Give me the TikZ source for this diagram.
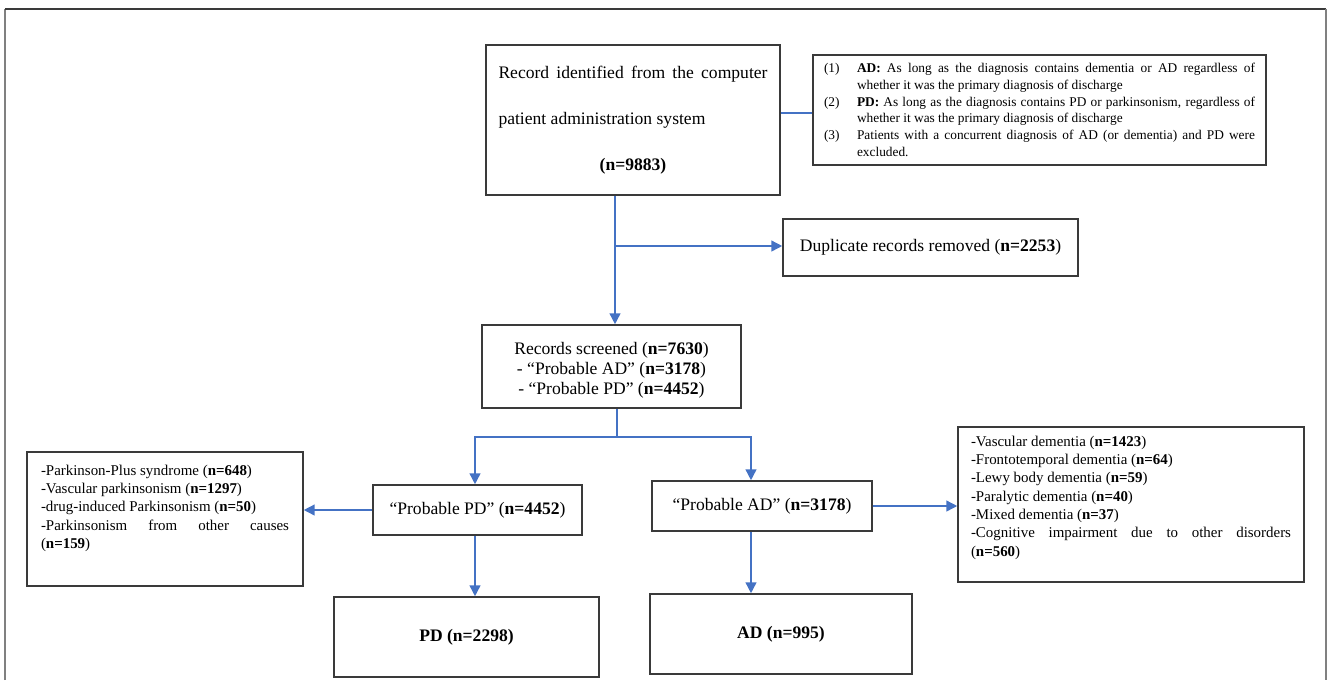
\documentclass[tikz,border=0pt]{standalone}
\usepackage{fontspec}
\setmainfont{Liberation Serif}
\usetikzlibrary{arrows.meta}
\newlength\pu
\setlength\pu{0.02cm}
\definecolor{flowblue}{HTML}{4472C4}
\definecolor{boxgray}{HTML}{3A3A3A}
\definecolor{framegray}{HTML}{808080}

\begin{document}
\begin{tikzpicture}[x=0.02cm, y=-0.02cm,
  every node/.style={draw=boxgray, line width=0.9pt, rectangle, inner sep=0pt, align=center, font=\fontsize{10}{11.4}\selectfont},
  flow/.style={draw=flowblue, line width=0.85pt, -{Triangle[length=6.2pt,width=6.2pt]}},
  link/.style={draw=flowblue, line width=0.85pt}]
\useasboundingbox (0,0) rectangle (1328,680);
\draw[framegray, line width=1pt] (5,680) -- (5,9);
\draw[boxgray, line width=1pt] (5,9) -- (1326,9);
\draw[framegray, line width=1pt] (1326,9) -- (1326,680);

\node[minimum width=294\pu, minimum height=150\pu, font=\fontsize{10}{26}\selectfont] (REC) at (633,120)
  {\makebox[269\pu][s]{Record identified from the computer}\\ \makebox[269\pu][l]{patient administration system}\\ \makebox[269\pu]{\textbf{(n=9883)}}};
\node[minimum width=453\pu, minimum height=110\pu, font=\fontsize{7.6}{9.5}\selectfont, align=left] (NOTE) at (1039.5,110)
  {\parbox{431\pu}{\makebox[33\pu][l]{(1)}\makebox[398\pu][s]{\textbf{AD:} As long as the diagnosis contains dementia or AD regardless of}\\
   \hspace*{33\pu}whether it was the primary diagnosis of discharge\\
   \makebox[33\pu][l]{(2)}\makebox[398\pu][s]{\textbf{PD:} As long as the diagnosis contains PD or parkinsonism, regardless of}\\
   \hspace*{33\pu}whether it was the primary diagnosis of discharge\\
   \makebox[33\pu][l]{(3)}\makebox[398\pu][s]{Patients with a concurrent diagnosis of AD (or dementia) and PD were}\\
   \hspace*{33\pu}excluded.}};
\node[minimum width=295\pu, minimum height=57\pu] (DUP) at (930.5,247.5) {Duplicate records removed (\textbf{n=2253})};
\node[minimum width=259\pu, minimum height=83\pu] (SCR) at (611.5,366.5)
  {\parbox[c][60\pu][b]{240\pu}{\centering Records screened (\textbf{n=7630})\\ - “Probable AD” (\textbf{n=3178})\\ - “Probable PD” (\textbf{n=4452})}};
\node[minimum width=209\pu, minimum height=50\pu] (PPD) at (477.5,510) {“Probable PD” (\textbf{n=4452})};
\node[minimum width=220\pu, minimum height=50\pu] (PAD) at (762,506) {“Probable AD” (\textbf{n=3178})};
\node[minimum width=276\pu, minimum height=134\pu, font=\fontsize{8.5}{10.4}\selectfont, align=left] (PDEX) at (165,519)
  {\parbox[c][108\pu][t]{248\pu}{-Parkinson-Plus syndrome (\textbf{n=648})\\ -Vascular parkinsonism (\textbf{n=1297})\\ -drug-induced Parkinsonism (\textbf{n=50})\\ \makebox[248\pu][s]{-Parkinsonism from other causes}\\ (\textbf{n=159})}};
\node[minimum width=346\pu, minimum height=155\pu, font=\fontsize{8.5}{10.4}\selectfont, align=left] (ADEX) at (1131,504.5)
  {\parbox[c][137\pu][t]{320\pu}{-Vascular dementia (\textbf{n=1423})\\ -Frontotemporal dementia (\textbf{n=64})\\ -Lewy body dementia (\textbf{n=59})\\ -Paralytic dementia (\textbf{n=40})\\ -Mixed dementia (\textbf{n=37})\\ \makebox[320\pu][s]{-Cognitive impairment due to other disorders}\\ (\textbf{n=560})}};
\node[minimum width=265\pu, minimum height=80\pu] (PD) at (466.5,637) {\textbf{PD (n=2298)}};
\node[minimum width=262\pu, minimum height=80\pu] (AD) at (781,634) {\textbf{AD (n=995)}};

\coordinate (TRUNK) at (615,246);
\coordinate (FORK) at (617,437);
\coordinate (FL) at (475,437);
\coordinate (FR) at (751,437);

\draw[link] (REC.east |- 0,113) -- (NOTE.west |- 0,113);
\draw[flow] (REC.south -| TRUNK) -- (SCR.north -| TRUNK);
\draw[flow] (TRUNK) -- (DUP.west |- TRUNK);
\draw[link] (SCR.south -| FORK) -- (FORK);
\draw[flow] (FORK) -| (PPD.north -| FL);
\draw[flow] (FORK) -| (PAD.north -| FR);
\draw[flow] (PPD.west) -- (PDEX.east |- PPD.west);
\draw[flow] (PAD.east) -- (ADEX.west |- PAD.east);
\draw[flow] (PPD.south -| FL) -- (PD.north -| FL);
\draw[flow] (PAD.south -| FR) -- (AD.north -| FR);
\end{tikzpicture}
\end{document}
